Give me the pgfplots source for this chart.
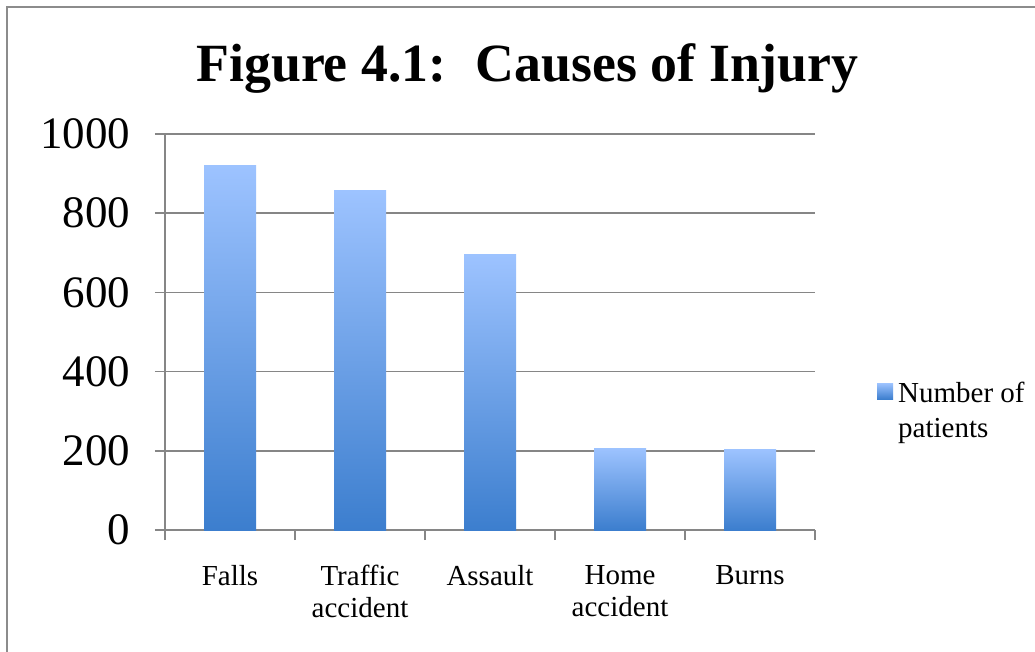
\documentclass[border=0pt]{standalone}
\usepackage{fontspec}
\setmainfont{Liberation Serif}
\usepackage{pgfplots}
\pgfplotsset{compat=1.18}
\definecolor{axisgray}{RGB}{134,134,134}
\definecolor{framegray}{RGB}{140,140,140}
\definecolor{bartop}{RGB}{157,195,255}
\definecolor{barbot}{RGB}{60,126,206}
\begin{document}
\begin{tikzpicture}[x=1pt,y=1pt]
\useasboundingbox (0,0) rectangle (1035,-652);
\fill[white] (0,0) rectangle (1035,-652);
\draw[framegray, line width=2.5pt] (7,-700) -- (7,-7) -- (1100,-7);
\node[anchor=base, inner sep=0pt, font=\fontsize{53.8}{58}\selectfont\bfseries] at (527.5,-82) {Figure 4.1:\hspace{0.55em}Causes of Injury};
\begin{axis}[
  at={(165pt,-530pt)}, anchor=south west,
  scale only axis, width=650pt, height=396pt,
  ybar, bar width=52pt,
  xmin=-0.5, xmax=4.5, ymin=0, ymax=1000,
  axis lines=left, axis line style={-, axisgray, line width=1.6pt},
  ytick={0,200,...,1000},
  ymajorgrids, grid style={axisgray, line width=1.6pt},
  tick align=outside, major tick length=10pt,
  tick style={axisgray, line width=1.6pt},
  xtick={-0.5,0.5,...,4.5},
  x tick label as interval,
  xticklabels={Falls,{Traffic\\accident},Assault,{Home\\accident},Burns},
  xticklabel style={font=\fontsize{29}{32}\selectfont, align=center, yshift=-22pt},
  yticklabel style={font=\fontsize{45}{48}\selectfont, xshift=-21pt},
  /pgf/number format/assume math mode=true,
  /pgf/number format/1000 sep={},
  legend style={draw=none, fill=none, inner sep=0pt, at={(1.0954,0.379)}, anchor=north west,
    column sep=3pt, font=\fontsize{29}{35}\selectfont,
    cells={anchor=north west, align=left, inner sep=0pt}},
  legend image code/.code={\fill[top color=bartop, bottom color=barbot] (0pt,-3pt) rectangle (16pt,-19pt);},
  every axis plot/.append style={draw=none, bar shift=0pt, top color=bartop, bottom color=barbot},
]
\addplot coordinates {(0,920)};
\addlegendentry{Number of\\patients}
\addplot[forget plot] coordinates {(1,857)};
\addplot[forget plot] coordinates {(2,695)};
\addplot[forget plot] coordinates {(3,207)};
\addplot[forget plot] coordinates {(4,204)};
\end{axis}
\end{tikzpicture}
\end{document}
